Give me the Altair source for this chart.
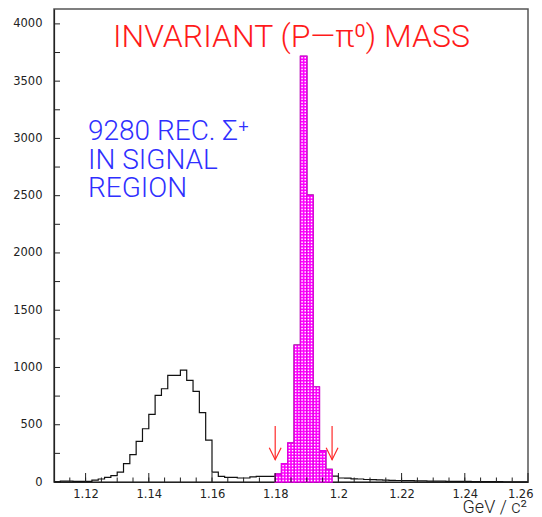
import altair as alt
import pandas as pd

# ---------------- data ----------------
x_min, x_max, bin_width = 1.11, 1.26, 0.002
counts = [4, 8, 8, 6, 6, 6, 17, 26, 41, 55,
          87, 160, 239, 355, 465, 590, 756, 814, 931, 931,
          977, 887, 791, 605, 365, 87, 49, 41, 41, 35,
          35, 44, 49, 49, 49, 70, 160, 340, 1195, 3717,
          2504, 829, 273, 110, 52, 35, 33, 28, 26, 22,
          20, 18, 16, 15, 13, 12, 12, 10, 9, 8,
          8, 7, 6, 6, 5, 5, 4, 4, 3, 3,
          3, 2, 2, 2, 2]
signal_lo, signal_hi = 1.18, 1.198
cut_positions = [1.18, 1.198]
arrow_top, arrow_tip = 490, 195
y_ticks = list(range(0, 4001, 250))
y_labels = list(range(0, 4001, 500))
x_major = [1.12, 1.14, 1.16, 1.18, 1.20, 1.22, 1.24, 1.26]
x_minor = [round(1.115 + 0.005 * i, 3) for i in range(29)]
title_text = "INVARIANT (P—π⁰) MASS"
info_lines = ["9280 REC. Σ⁺", "IN SIGNAL", "REGION"]
unit_text = "GeV / c²"

# ---------------- tables ----------------
edges = [round(x_min + bin_width * i, 4) for i in range(len(counts) + 1)]
hist = pd.DataFrame({"x0": edges[:-1], "x1": edges[1:], "n": counts})
outline = pd.DataFrame({"x": edges, "n": counts + [counts[-1]]})
sig = hist[(hist.x0 >= signal_lo - 1e-9) & (hist.x1 <= signal_hi + 1e-9)].reset_index(drop=True)
arrows = pd.DataFrame({"x": cut_positions, "top": arrow_top, "tip": arrow_tip})

W, H = 474, 473
xs = alt.Scale(domain=[x_min, x_max], nice=False, zero=False, padding=0)
ys = alt.Scale(domain=[0, 4130], nice=False, padding=0)

base_axis_x = alt.Axis(values=x_major, format="~g", tickSize=0, labelPadding=6,
                       labelFlush=True, labelFlushOffset=5,
                       labelFont="DejaVu Sans", labelFontSize=11.5, labelColor="#222",
                       domainColor="#222", grid=False, title=None)
base_axis_y = alt.Axis(values=y_labels, format="d", tickSize=0, labelPadding=12, labelFlush=False,
                       labelFont="DejaVu Sans", labelFontSize=11.5, labelColor="#222",
                       domainColor="#222", grid=False, title=None)

line = alt.Chart(outline).mark_line(interpolate="step-after", color="#111", strokeWidth=1.2).encode(
    x=alt.X("x:Q", scale=xs, axis=base_axis_x),
    y=alt.Y("n:Q", scale=ys, axis=base_axis_y),
)

bars = alt.Chart(sig).mark_rect(fill="#ff00ff", stroke="#e600e6", strokeWidth=1.5).encode(
    x=alt.X("x0:Q", scale=xs), x2="x1:Q",
    y=alt.Y("n:Q", scale=ys), y2=alt.datum(0),
)

dots = alt.Chart(sig).transform_calculate(
    px="sequence(datum.x0 + 0.0005, datum.x1 - 0.0002, 0.001)"
).transform_flatten(["px"]).transform_calculate(
    py="sequence(13, datum.n - 8, 26)"
).transform_flatten(["py"]).mark_square(size=2.2, color="white", opacity=1).encode(
    x=alt.X("px:Q", scale=xs), y=alt.Y("py:Q", scale=ys)
)

ytick_df = pd.DataFrame({"v": y_ticks})
yt = alt.Chart(ytick_df).mark_rule(color="#222", strokeWidth=1).encode(
    y=alt.Y("v:Q", scale=ys), x=alt.value(0), x2=alt.value(6)
)
xmaj = alt.Chart(pd.DataFrame({"v": x_major})).mark_rule(color="#222", strokeWidth=1).encode(
    x=alt.X("v:Q", scale=xs), y=alt.value(H), y2=alt.value(H - 9)
)
xmin_ = alt.Chart(pd.DataFrame({"v": x_minor})).mark_rule(color="#222", strokeWidth=1).encode(
    x=alt.X("v:Q", scale=xs), y=alt.value(H), y2=alt.value(H - 4.5)
)

arrow_shaft = alt.Chart(arrows).mark_rule(color="#ff2a2a", strokeWidth=1.2).encode(
    x=alt.X("x:Q", scale=xs), y=alt.Y("top:Q", scale=ys), y2="tip:Q"
)
arrow_head = alt.Chart(arrows).mark_point(
    shape="M-0.5,-1L0,0L0.5,-1", size=560, filled=False, stroke="#ff2a2a", strokeWidth=1.2, opacity=1
).encode(x=alt.X("x:Q", scale=xs), y=alt.Y("tip:Q", scale=ys))

one = pd.DataFrame({"a": [0]})
title = alt.Chart(one).mark_text(
    text=title_text, font="Roboto", fontWeight=300, fontSize=32, color="#ff1a1a",
    align="left", baseline="alphabetic"
).encode(x=alt.value(59), y=alt.value(38))

info = alt.Chart(one).mark_text(
    text=info_lines, font="Roboto", fontWeight=300, fontSize=28, color="#2f2fff",
    align="left", baseline="alphabetic", lineHeight=28.5
).encode(x=alt.value(34), y=alt.value(131))

unit = alt.Chart(one).mark_text(
    text=unit_text, font="Roboto", fontWeight=300, fontSize=18, color="#222",
    align="right", baseline="alphabetic"
).encode(x=alt.value(473), y=alt.value(503.5))

chart = alt.layer(line, bars, dots, yt, xmaj, xmin_, arrow_shaft, arrow_head, title, info, unit).properties(
    width=W, height=H,
    autosize=alt.AutoSizeParams(type="none"),
    padding={"left": 46, "top": 1, "right": 6, "bottom": 35},
).configure_view(stroke="#555", strokeWidth=1.5).configure_axis(domainWidth=1.2)

chart.save("out.html", embed_options={"renderer": "svg", "actions": False})
